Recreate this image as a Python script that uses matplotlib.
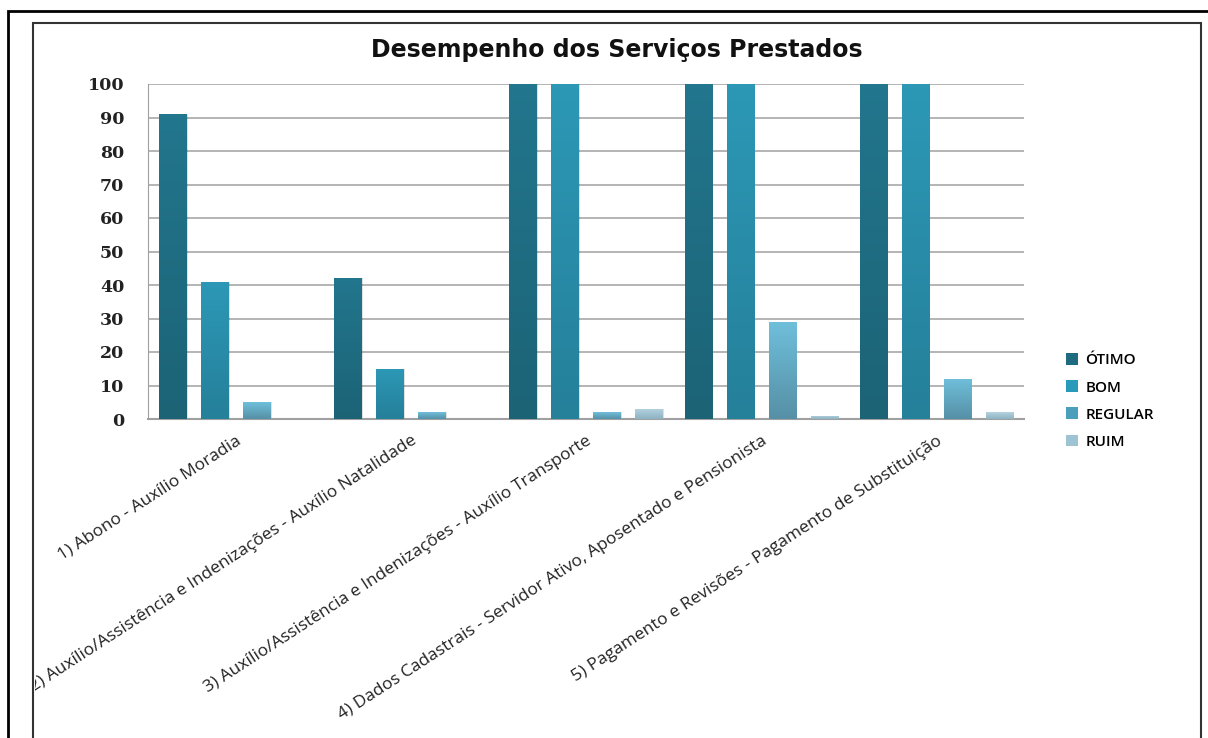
import numpy as np
import matplotlib
matplotlib.use("Agg")
import matplotlib.pyplot as plt
from matplotlib.colors import LinearSegmentedColormap
from matplotlib.patches import Rectangle, Patch
from matplotlib.transforms import Bbox, TransformedBbox

# data
categories = ["1) Abono - Auxílio Moradia",
              "2) Auxílio/Assistência e Indenizações - Auxílio Natalidade",
              "3) Auxílio/Assistência e Indenizações - Auxílio Transporte",
              "4) Dados Cadastrais - Servidor Ativo, Aposentado e Pensionista",
              "5) Pagamento e Revisões - Pagamento de Substituição"]
series = ["ÓTIMO", "BOM", "REGULAR", "RUIM"]
otimo = [91, 42, 100, 100, 100]
bom = [41, 15, 100, 100, 100]
regular = [5, 2, 2, 29, 12]
ruim = [0, 0, 3, 1, 2]
values = [otimo, bom, regular, ruim]

# (bottom, top) gradient colours and flat legend colours
grad = [("#1c6376", "#22768d"),
        ("#25809a", "#2c98b6"),
        ("#5690a6", "#6fbfdb"),
        ("#8db2c2", "#b6d4e1")]
legend_cols = ["#1f6b80", "#2a9abb", "#4a9fbd", "#9ec3d3"]

fig = plt.figure(figsize=(12.08, 7.38), dpi=100)
W, H = 1208, 738

# page frames
fig.add_artist(Rectangle((8 / W, -0.1), 1.2, 1 - 11 / H + 0.1, transform=fig.transFigure,
                         fill=False, lw=2, ec="black"))
fig.add_artist(Rectangle((33 / W, -0.1), (1201 - 33) / W, 1 - 23 / H + 0.1,
                         transform=fig.transFigure, fill=False, lw=1.5, ec="#333333"))

ax = fig.add_axes([148 / W, 1 - 419 / H, (1024 - 148) / W, (419 - 84) / H])

x = np.arange(len(categories))
slot = 0.24
bw = 0.155
for i, (name, vals) in enumerate(zip(series, values)):
    offs = (i - 1.5) * slot
    bars = ax.bar(x + offs, vals, width=bw, color="none", edgecolor="none", zorder=3)
    cmap = LinearSegmentedColormap.from_list(name, [grad[i][0], grad[i][1]])
    for b, v in zip(bars, vals):
        if v <= 0:
            continue
        x0, w = b.get_x(), b.get_width()
        im = ax.imshow(np.linspace(0, 1, 64).reshape(-1, 1), cmap=cmap, origin="lower",
                       extent=[x0, x0 + w, 0, v], aspect="auto", zorder=3,
                       interpolation="bilinear")
        im.set_clip_path(b)
        # soft shadow
        ax.add_patch(Rectangle((x0 + 0.008, 0), w, v, fc="#000000", alpha=0.12,
                               ec="none", zorder=2.5))

ax.set_xlim(-0.5, len(categories) - 0.5)
ax.set_ylim(0, 100)
ax.set_yticks(np.arange(0, 101, 10))
ax.yaxis.grid(True, color="#a8a8a8", lw=1.2, zorder=0)
ax.set_axisbelow(True)
for s in ["top", "right"]:
    ax.spines[s].set_visible(False)
ax.spines["left"].set_color("#a0a0a0")
ax.spines["bottom"].set_color("#a0a0a0")
ax.spines["bottom"].set_linewidth(1.5)
ax.tick_params(axis="y", length=0, pad=17, labelsize=12.5)
for t in ax.get_yticklabels():
    t.set_fontfamily("DejaVu Serif")
    t.set_fontweight("bold")
    t.set_color("#222222")
ax.set_xticks(x)
ax.set_xticklabels(categories, rotation=33, ha="right", rotation_mode="anchor",
                   fontsize=12.5, family="Open Sans", color="#222222")
ax.tick_params(axis="x", length=0, pad=10)
# labels are cut off by the inner frame, as in the original
clip = TransformedBbox(Bbox([[35 / W, 0], [1, 1]]), fig.transFigure)
for t in ax.get_xticklabels():
    t.set_clip_box(clip)
    t.set_clip_on(True)

fig.text(617 / W, 1 - 50 / H, "Desempenho dos Serviços Prestados", ha="center", va="center",
         fontsize=17, fontweight="bold", family="DejaVu Sans", color="#111111")

handles = [Patch(facecolor=c, edgecolor="none") for c in legend_cols]
fig.legend(handles, series, loc="center left", bbox_to_anchor=(1052 / W, 1 - 401 / H),
           frameon=False, handlelength=0.8, handleheight=0.8,
           handletextpad=0.5, labelspacing=0.85,
           prop={"family": "Open Sans", "size": 11, "weight": "semibold"})

fig.savefig("out.png", dpi=100)
